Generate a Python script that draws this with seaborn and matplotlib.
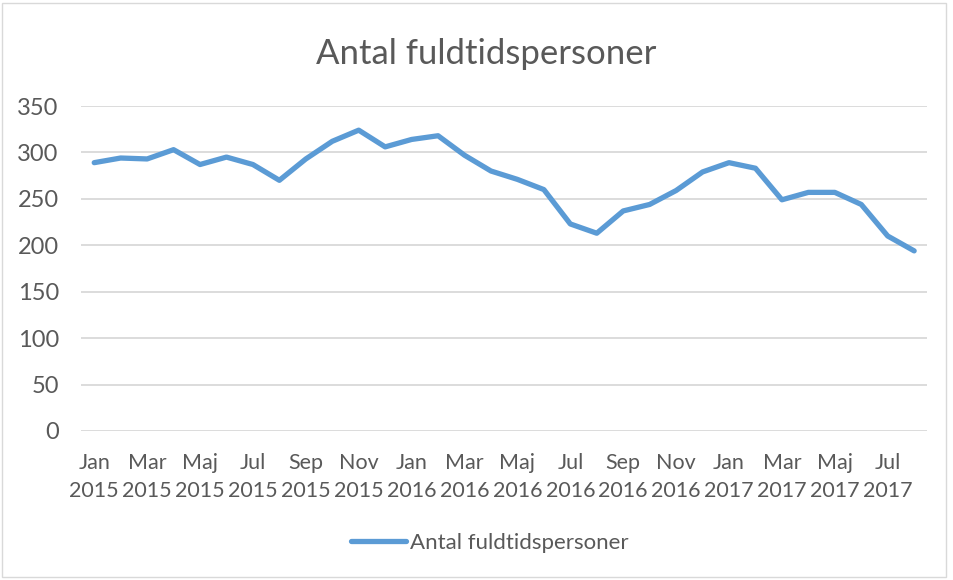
import pandas as pd
import matplotlib.pyplot as plt
import seaborn as sns
from matplotlib.patches import Rectangle

# Monthly values, Jan 2015 - Aug 2017
months = ["Jan", "Feb", "Mar", "Apr", "Maj", "Jun", "Jul", "Aug", "Sep", "Okt", "Nov", "Dec"]
years = [2015, 2016, 2017]
values = [289, 294, 293, 303, 287, 295, 287, 270, 293, 312, 324, 306,
          314, 318, 297, 280, 271, 260, 223, 213, 237, 244, 259, 279,
          289, 283, 249, 257, 257, 244, 210, 194]

labels = [f"{m}\n{y}" for y in years for m in months][:len(values)]
df = pd.DataFrame({"idx": range(len(values)), "label": labels, "value": values})

sns.set_theme(style="white")
plt.rcParams['font.family'] = ['Lato', 'DejaVu Sans']

text_color = "#595959"
fig = plt.figure(figsize=(9.54, 5.8), dpi=100)
ax = fig.add_axes([0.0849, 0.2569, 0.8872, 0.5603])

sns.lineplot(data=df, x="idx", y="value", ax=ax, color="#5B9BD5", linewidth=3.8,
             label="Antal fuldtidspersoner", solid_capstyle="round", solid_joinstyle="round")

ax.set_xlim(-0.5, len(values) - 0.5)
ax.set_ylim(0, 350)
ax.set_yticks(range(0, 351, 50))
ax.set_xticks(df["idx"][::2])
ax.set_xticklabels(df["label"][::2], linespacing=1.5)
ax.grid(axis="y", color="#D9D9D9", linewidth=1.3)
ax.set_axisbelow(True)
for s in ax.spines.values():
    s.set_visible(False)
ax.tick_params(axis="x", length=0, pad=16, labelsize=15.5, labelcolor=text_color)
ax.tick_params(axis="y", length=0, pad=16, labelsize=17, labelcolor=text_color)
ax.set_xlabel("")
ax.set_ylabel("")

fig.suptitle("Antal fuldtidspersoner", x=0.51, y=0.935, fontsize=25, color=text_color)

ax.legend(loc="center", bbox_to_anchor=(0.513, 0.064), bbox_transform=fig.transFigure,
          frameon=False, fontsize=16, labelcolor=text_color, handlelength=2.5,
          handletextpad=0.15)

fig.patches.append(Rectangle((0.002, 0.005), 0.99, 0.99, transform=fig.transFigure,
                             fill=False, edgecolor="#D9D9D9", linewidth=1))

fig.savefig("out.png", dpi=100, facecolor="white")
